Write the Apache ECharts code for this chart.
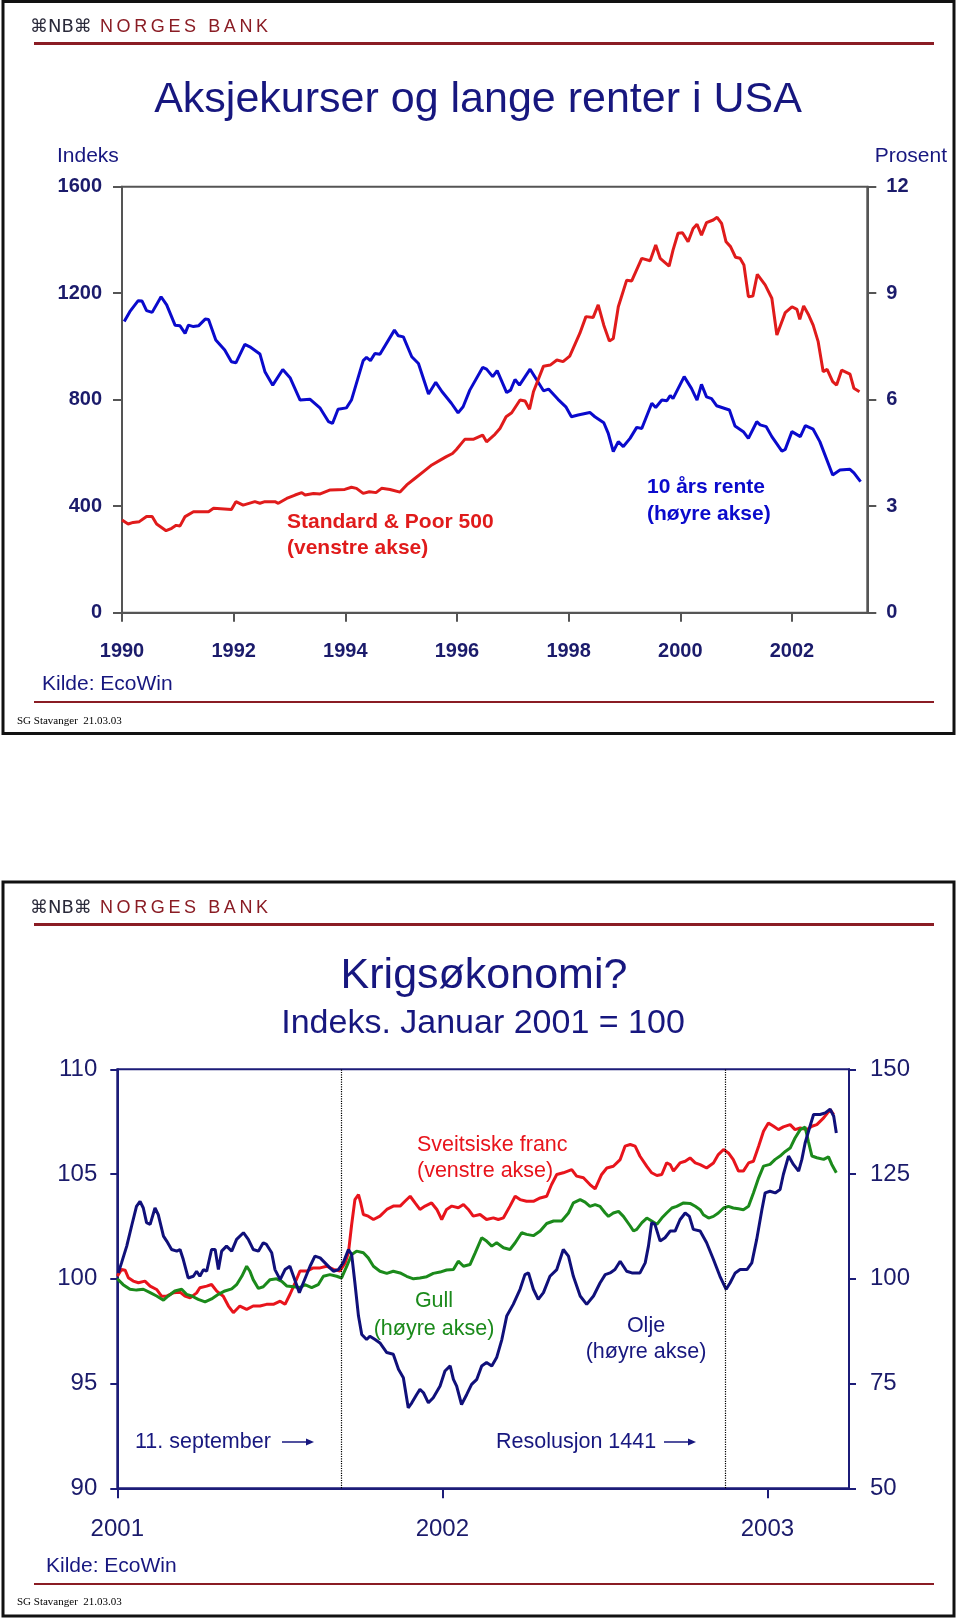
<!DOCTYPE html>
<html>
<head>
<meta charset="utf-8">
<script src="https://cdn.jsdelivr.net/npm/echarts@6/dist/echarts.min.js"></script>
<style>
html,body{margin:0;padding:0;background:#fff;}
#c{width:960px;height:1620px;}
</style>
</head>
<body>
<div id="c"></div>
<script>
// ---------- Chart 1: Aksjekurser og lange renter i USA ----------
const spYears = [1990.00,1990.11,1990.20,1990.31,1990.44,1990.54,1990.62,1990.79,1990.89,1990.97,1991.04,1991.13,1991.28,1991.55,1991.64,1991.96,1992.04,1992.17,1992.38,1992.47,1992.56,1992.74,1992.80,1992.95,1993.10,1993.22,1993.28,1993.43,1993.55,1993.73,1993.99,1994.11,1994.20,1994.32,1994.43,1994.55,1994.65,1994.80,1994.98,1995.10,1995.25,1995.40,1995.55,1995.70,1995.81,1995.92,1995.99,1996.08,1996.14,1996.29,1996.46,1996.53,1996.68,1996.77,1996.88,1996.98,1997.13,1997.22,1997.30,1997.37,1997.55,1997.67,1997.79,1997.90,1998.02,1998.20,1998.31,1998.44,1998.53,1998.63,1998.73,1998.80,1998.89,1999.04,1999.13,1999.31,1999.46,1999.56,1999.64,1999.80,1999.87,1999.96,2000.04,2000.14,2000.23,2000.30,2000.38,2000.47,2000.59,2000.66,2000.74,2000.82,2000.90,2000.99,2001.07,2001.14,2001.22,2001.30,2001.38,2001.52,2001.64,2001.73,2001.88,2002.00,2002.09,2002.14,2002.21,2002.30,2002.38,2002.47,2002.56,2002.63,2002.73,2002.80,2002.89,2003.04,2003.11,2003.21];
const spValues = [348,333,339,342,361,361,333,308,317,328,326,361,379,379,392,388,417,404,417,411,417,417,411,429,442,451,442,448,446,461,463,471,467,448,454,451,467,463,453,480,505,530,555,573,586,598,613,636,651,651,667,642,670,692,736,751,799,795,764,830,926,930,949,943,964,1049,1112,1109,1156,1080,1020,1030,1149,1249,1246,1331,1322,1381,1331,1302,1362,1425,1427,1393,1443,1459,1418,1465,1475,1485,1462,1393,1375,1335,1331,1306,1187,1189,1271,1231,1181,1043,1127,1149,1139,1102,1152,1118,1080,1018,905,914,868,855,911,896,843,830];

const rateYears = [1990.04,1990.14,1990.29,1990.36,1990.44,1990.54,1990.70,1990.80,1990.95,1991.04,1991.13,1991.19,1991.28,1991.37,1991.49,1991.55,1991.68,1991.84,1991.96,1992.04,1992.20,1992.29,1992.47,1992.56,1992.70,1992.88,1993.01,1993.19,1993.37,1993.55,1993.70,1993.77,1993.87,1994.02,1994.11,1994.32,1994.38,1994.45,1994.53,1994.62,1994.88,1994.95,1995.04,1995.19,1995.31,1995.49,1995.62,1995.73,1995.90,1996.02,1996.11,1996.23,1996.46,1996.53,1996.64,1996.72,1996.89,1996.96,1997.04,1997.12,1997.31,1997.55,1997.64,1997.81,1997.95,1998.05,1998.17,1998.38,1998.47,1998.63,1998.71,1998.80,1998.89,1998.98,1999.10,1999.22,1999.31,1999.49,1999.56,1999.67,1999.76,1999.82,1999.87,2000.07,2000.20,2000.30,2000.38,2000.47,2000.56,2000.65,2000.88,2000.98,2001.13,2001.22,2001.37,2001.43,2001.54,2001.64,2001.82,2001.88,2002.00,2002.15,2002.24,2002.38,2002.50,2002.73,2002.86,2003.04,2003.11,2003.23];
const rateValues = [8.20,8.48,8.79,8.78,8.51,8.46,8.90,8.67,8.10,8.08,7.87,8.10,8.06,8.08,8.27,8.26,7.68,7.40,7.07,7.04,7.56,7.49,7.29,6.79,6.41,6.85,6.62,5.99,6.01,5.76,5.38,5.33,5.73,5.77,5.99,7.10,7.19,7.10,7.30,7.28,7.96,7.80,7.77,7.21,7.02,6.16,6.49,6.23,5.90,5.63,5.80,6.27,6.91,6.86,6.65,6.82,6.20,6.27,6.57,6.41,6.86,6.25,6.30,6.01,5.80,5.52,5.57,5.64,5.52,5.35,5.05,4.54,4.82,4.68,4.91,5.22,5.19,5.90,5.78,5.99,5.97,6.12,6.03,6.65,6.32,5.99,6.43,6.08,6.03,5.83,5.71,5.26,5.10,4.91,5.38,5.29,5.24,4.96,4.55,4.60,5.10,4.96,5.27,5.17,4.82,3.88,4.02,4.04,3.94,3.69];

const topYearTicks = [1990,1992,1994,1996,1998,2000,2002];

// ---------- Chart 2: Krigsøkonomi? ----------
const chfDates = [2001.000,2001.013,2001.024,2001.034,2001.049,2001.065,2001.085,2001.101,2001.121,2001.136,2001.152,2001.172,2001.193,2001.208,2001.224,2001.244,2001.254,2001.275,2001.290,2001.306,2001.326,2001.342,2001.357,2001.377,2001.398,2001.418,2001.439,2001.459,2001.480,2001.501,2001.516,2001.531,2001.547,2001.562,2001.583,2001.603,2001.624,2001.644,2001.665,2001.685,2001.701,2001.711,2001.721,2001.731,2001.742,2001.749,2001.757,2001.772,2001.788,2001.808,2001.829,2001.849,2001.870,2001.885,2001.901,2001.916,2001.931,2001.947,2001.967,2001.983,2001.998,2002.013,2002.029,2002.049,2002.065,2002.080,2002.095,2002.116,2002.136,2002.157,2002.172,2002.188,2002.208,2002.224,2002.239,2002.259,2002.280,2002.301,2002.321,2002.336,2002.352,2002.372,2002.398,2002.413,2002.434,2002.454,2002.470,2002.490,2002.506,2002.526,2002.547,2002.562,2002.578,2002.593,2002.608,2002.629,2002.644,2002.660,2002.675,2002.690,2002.701,2002.711,2002.731,2002.747,2002.762,2002.778,2002.793,2002.813,2002.834,2002.849,2002.865,2002.880,2002.895,2002.911,2002.926,2002.942,2002.957,2002.973,2002.988,2003.003,2003.019,2003.034,2003.049,2003.070,2003.085,2003.101,2003.121,2003.137,2003.152,2003.173,2003.193,2003.204];
const chfValues = [100.13,100.45,100.41,100.05,99.89,99.81,99.89,99.65,99.49,99.17,99.17,99.33,99.36,99.17,99.09,99.33,99.57,99.65,99.73,99.41,99.17,98.70,98.38,98.70,98.54,98.70,98.70,98.78,98.78,98.93,98.78,99.25,99.81,100.37,100.37,100.52,100.52,100.60,100.45,100.37,100.76,101.24,102.59,103.78,104.02,103.62,103.07,102.99,102.83,102.99,103.31,103.47,103.47,103.70,103.94,103.62,103.31,103.47,103.62,103.31,102.83,103.31,103.47,103.39,103.55,103.31,102.99,103.07,102.83,102.91,102.83,102.91,103.47,103.94,103.78,103.70,103.70,103.86,103.94,104.50,104.98,105.06,105.21,104.90,104.82,104.50,104.29,104.98,105.29,105.37,105.69,106.33,106.41,106.33,105.85,105.37,105.06,104.93,104.98,105.53,105.45,105.14,105.53,105.61,105.77,105.53,105.45,105.29,105.53,105.93,106.17,106.01,105.69,105.14,105.14,105.53,105.61,106.33,107.04,107.44,107.28,107.12,107.25,107.36,107.12,107.20,107.12,107.28,107.36,107.68,108.08,107.84];

const goldDates = [2001.000,2001.018,2001.039,2001.059,2001.080,2001.101,2001.121,2001.142,2001.157,2001.177,2001.198,2001.213,2001.229,2001.249,2001.270,2001.290,2001.311,2001.331,2001.352,2001.367,2001.383,2001.398,2001.408,2001.418,2001.434,2001.449,2001.470,2001.490,2001.506,2001.521,2001.542,2001.562,2001.577,2001.598,2001.618,2001.634,2001.654,2001.675,2001.690,2001.706,2001.721,2001.736,2001.757,2001.772,2001.788,2001.808,2001.829,2001.849,2001.870,2001.890,2001.911,2001.931,2001.952,2001.972,2001.993,2002.013,2002.034,2002.049,2002.065,2002.085,2002.101,2002.121,2002.136,2002.152,2002.167,2002.188,2002.208,2002.224,2002.244,2002.259,2002.280,2002.301,2002.321,2002.342,2002.367,2002.388,2002.403,2002.424,2002.439,2002.454,2002.470,2002.485,2002.501,2002.511,2002.526,2002.542,2002.557,2002.578,2002.588,2002.598,2002.614,2002.629,2002.644,2002.660,2002.675,2002.690,2002.706,2002.721,2002.742,2002.762,2002.778,2002.793,2002.803,2002.819,2002.834,2002.849,2002.865,2002.880,2002.895,2002.911,2002.926,2002.942,2002.957,2002.973,2002.988,2003.008,2003.024,2003.039,2003.055,2003.070,2003.085,2003.101,2003.116,2003.126,2003.137,2003.152,2003.173,2003.188,2003.198,2003.212];
const goldValues = [100.0,98.6,97.5,97.3,97.5,96.7,95.9,94.9,95.9,97.1,97.5,96.3,95.9,95.1,94.5,95.2,96.3,97.1,97.6,98.6,100.6,103.0,101.8,99.8,97.7,98.1,99.8,100.0,99.4,98.3,98.1,97.9,98.6,97.9,98.6,100.6,101.0,100.6,100.2,103.0,105.8,106.6,106.2,105.0,103.0,101.8,101.3,101.8,101.4,100.6,100.0,100.2,100.5,101.3,101.6,102.1,102.2,104.2,103.0,103.4,106.2,109.8,109.0,107.8,108.6,107.4,107.0,108.6,111.0,110.6,110.3,111.4,113.2,113.8,113.8,115.7,118.1,118.9,118.3,117.3,117.7,117.3,115.7,114.9,115.7,116.1,114.9,112.6,111.4,111.8,113.4,114.5,113.8,113.0,114.5,115.7,116.9,117.3,118.1,118.0,117.3,116.5,115.3,114.5,114.9,115.7,116.9,117.3,116.9,116.7,116.5,117.3,120.5,124.1,126.9,127.3,128.5,129.3,130.4,131.2,133.6,135.6,136.2,132.8,129.3,128.9,128.5,129.1,127.3,125.3];

const oilDates = [2001.003,2001.013,2001.029,2001.044,2001.059,2001.070,2001.080,2001.090,2001.101,2001.116,2001.126,2001.142,2001.152,2001.167,2001.183,2001.193,2001.203,2001.218,2001.234,2001.244,2001.254,2001.265,2001.275,2001.290,2001.301,2001.311,2001.321,2001.336,2001.352,2001.367,2001.388,2001.403,2001.418,2001.434,2001.449,2001.459,2001.475,2001.485,2001.501,2001.516,2001.531,2001.542,2001.560,2001.572,2001.593,2001.608,2001.624,2001.639,2001.654,2001.665,2001.680,2001.695,2001.711,2001.721,2001.731,2001.742,2001.752,2001.767,2001.777,2001.793,2001.808,2001.829,2001.849,2001.865,2001.880,2001.895,2001.906,2001.921,2001.931,2001.942,2001.957,2001.972,2001.993,2002.008,2002.024,2002.034,2002.044,2002.059,2002.075,2002.090,2002.106,2002.121,2002.136,2002.152,2002.167,2002.183,2002.198,2002.218,2002.239,2002.254,2002.265,2002.280,2002.295,2002.311,2002.331,2002.352,2002.372,2002.388,2002.403,2002.424,2002.444,2002.465,2002.485,2002.501,2002.516,2002.531,2002.547,2002.567,2002.583,2002.608,2002.624,2002.634,2002.644,2002.654,2002.670,2002.685,2002.701,2002.716,2002.731,2002.747,2002.760,2002.772,2002.793,2002.813,2002.834,2002.854,2002.873,2002.885,2002.901,2002.916,2002.937,2002.952,2002.967,2002.983,2002.993,2003.008,2003.024,2003.039,2003.049,2003.065,2003.080,2003.096,2003.106,2003.116,2003.131,2003.142,2003.162,2003.178,2003.193,2003.204,2003.212];
const oilValues = [101.4,103.8,107.8,112.6,117.3,118.5,116.9,113.4,113.0,116.9,115.3,110.2,109.0,107.0,106.6,107.0,104.6,100.2,100.6,101.8,100.6,102.2,101.8,107.0,107.0,102.2,106.6,107.8,106.6,109.4,111.0,109.4,107.0,106.6,108.6,108.2,106.2,102.2,99.8,102.2,103.0,100.6,96.7,99.0,103.0,105.4,105.0,103.8,102.6,101.8,102.2,103.8,107.0,105.8,99.0,91.1,86.7,85.5,86.3,85.5,84.7,82.4,82.0,78.4,76.4,69.2,70.4,72.4,73.6,72.8,70.4,71.6,74.4,78.0,79.2,76.0,74.4,70.0,72.4,74.8,76.0,79.2,80.0,79.2,81.2,85.5,91.1,93.9,97.5,101.0,101.4,97.5,95.1,96.7,100.6,102.2,107.0,105.4,100.6,95.9,93.9,95.9,99.0,101.0,101.4,102.2,104.2,101.8,101.4,101.4,103.8,107.8,113.4,113.0,109.0,109.8,111.4,111.4,114.1,115.7,114.9,111.8,111.4,108.6,104.6,100.6,97.5,99.0,101.4,102.2,102.2,103.8,109.4,116.5,120.5,120.9,120.5,121.3,124.9,129.3,127.3,125.7,128.5,132.4,136.4,139.2,139.2,139.6,140.5,138.8,134.8];

const bottomYearTicks = [2001,2002,2003];
const eventDates = [2001.695, 2002.870]; // 11. september, Resolusjon 1441

function zip(xs, ys){ return xs.map((x,i)=>[x, ys[i]]); }

const FONT = "'Liberation Sans', Arial, sans-serif";
const NAVY = '#17177f';
const TICKNAVY = '#1b1b6b';
const GREY = '#555555';
const AX2 = '#1c1c78';
const DARKRED = '#8a1c24';

const chart = echarts.init(document.getElementById('c'), null, {renderer:'canvas'});

function txt(text, x, y, font, fill, align, valign){
  return {type:'text', silent:true, style:{text:text, x:x, y:y, font:font, fill:fill,
    align:align||'left', verticalAlign:valign||'middle', textAlign:align||'left', textVerticalAlign:valign||'middle'}};
}
function hline(x1,x2,y,color,w){
  return {type:'line', silent:true, shape:{x1:x1,y1:y,x2:x2,y2:y}, style:{stroke:color, lineWidth:w}};
}
function arrow(x1,x2,y){
  return [
    {type:'line', silent:true, shape:{x1:x1,y1:y,x2:x2-4,y2:y}, style:{stroke:NAVY, lineWidth:1.5}},
    {type:'polygon', silent:true, shape:{points:[[x2-8,y-3.5],[x2,y],[x2-8,y+3.5]]}, style:{fill:NAVY}}
  ];
}
const BANK = 'N\u2009O\u2009R\u2009G\u2009E\u2009S\u2009 \u2009B\u2009A\u2009N\u2009K';

const graphics = [
  // panel frames
  {type:'rect', silent:true, shape:{x:3,y:1.5,width:951,height:732}, style:{fill:'none', stroke:'#111', lineWidth:3}},
  {type:'rect', silent:true, shape:{x:3,y:882,width:951,height:734}, style:{fill:'none', stroke:'#111', lineWidth:3}},
  // logos
  txt('\u2318NB\u2318', 30, 27, "18px 'DejaVu Sans', sans-serif", '#2a2a3a'),
  txt(BANK, 100, 27, "18px " + FONT, DARKRED),
  hline(34, 934, 43.5, DARKRED, 3),
  txt('\u2318NB\u2318', 30, 908, "18px 'DejaVu Sans', sans-serif", '#2a2a3a'),
  txt(BANK, 100, 908, "18px " + FONT, DARKRED),
  hline(34, 934, 924.5, DARKRED, 3),
  // footers
  hline(34, 934, 702, DARKRED, 2),
  hline(34, 934, 1584, DARKRED, 2),
  txt('SG Stavanger  21.03.03', 17, 721, "11px 'Liberation Serif', 'Times New Roman', serif", '#000'),
  txt('SG Stavanger  21.03.03', 17, 1602, "11px 'Liberation Serif', 'Times New Roman', serif", '#000'),
  // chart 1 texts
  txt('Aksjekurser og lange renter i USA', 478, 100, "43px " + FONT, NAVY, 'center'),
  txt('Indeks', 57, 156, "21px " + FONT, NAVY),
  txt('Prosent', 947, 156, "21px " + FONT, NAVY, 'right'),
  txt('Standard & Poor 500', 287, 522, "bold 21px " + FONT, '#e01b1b'),
  txt('(venstre akse)', 287, 548, "bold 21px " + FONT, '#e01b1b'),
  txt('10 års rente', 647, 487, "bold 21px " + FONT, '#0a0acc'),
  txt('(høyre akse)', 647, 514, "bold 21px " + FONT, '#0a0acc'),
  txt('Kilde: EcoWin', 42, 684, "21px " + FONT, NAVY),
  // chart 2 texts
  txt('Krigsøkonomi?', 484, 976, "43px " + FONT, NAVY, 'center'),
  txt('Indeks. Januar 2001 = 100', 483, 1024, "34px " + FONT, NAVY, 'center'),
  txt('Sveitsiske franc', 417, 1145, "21.5px " + FONT, '#e8141c'),
  txt('(venstre akse)', 417, 1171, "21.5px " + FONT, '#e8141c'),
  txt('Gull', 434, 1301, "21.5px " + FONT, '#1b8a1b', 'center'),
  txt('(høyre akse)', 434, 1329, "21.5px " + FONT, '#1b8a1b', 'center'),
  txt('Olje', 646, 1326, "21.5px " + FONT, NAVY, 'center'),
  txt('(høyre akse)', 646, 1352, "21.5px " + FONT, NAVY, 'center'),
  txt('11. september', 135, 1442, "21.5px " + FONT, NAVY),
  txt('Resolusjon 1441', 496, 1442, "21.5px " + FONT, NAVY),
  txt('Kilde: EcoWin', 46, 1566, "21px " + FONT, NAVY)
].concat(arrow(282, 314, 1442)).concat(arrow(664, 696, 1442));

const plain = v => String(v);

const option = {
  animation: false,
  backgroundColor: '#ffffff',
  textStyle: {fontFamily: FONT},
  grid: [
    {left:122, top:186.7, width:745.3, height:426, show:true, borderColor:GREY, borderWidth:2, backgroundColor:'transparent'},
    {left:117.3, top:1069.3, width:731.7, height:419, show:true, borderColor:AX2, borderWidth:2, backgroundColor:'transparent'}
  ],
  xAxis: [
    {type:'value', gridIndex:0, min:1990, max:2003.35,
     axisLine:{show:true, lineStyle:{color:GREY, width:2}},
     axisTick:{show:true, customValues: topYearTicks, length:9, lineStyle:{color:GREY, width:2}},
     axisLabel:{show:true, customValues: topYearTicks, margin:29, color:TICKNAVY, fontSize:20, fontWeight:'bold', fontFamily:FONT, formatter:v=>String(Math.round(v))},
     splitLine:{show:false}},
    {type:'value', gridIndex:1, min:2001, max:2003.251,
     axisLine:{show:true, lineStyle:{color:AX2, width:2}},
     axisTick:{show:true, customValues: bottomYearTicks, length:10, lineStyle:{color:AX2, width:2}},
     axisLabel:{show:true, customValues: bottomYearTicks, margin:29, color:TICKNAVY, fontSize:24, fontFamily:FONT, formatter:v=>String(Math.round(v))},
     splitLine:{show:false}}
  ],
  yAxis: [
    {type:'value', gridIndex:0, position:'left', min:0, max:1600, interval:400,
     axisLine:{show:true, lineStyle:{color:GREY, width:2}},
     axisTick:{show:true, length:9, lineStyle:{color:GREY, width:2}},
     axisLabel:{margin:20, color:TICKNAVY, fontSize:20, fontWeight:'bold', fontFamily:FONT, formatter:plain},
     splitLine:{show:false}},
    {type:'value', gridIndex:0, position:'right', min:0, max:12, interval:3,
     axisLine:{show:true, lineStyle:{color:GREY, width:2}},
     axisTick:{show:true, length:9, lineStyle:{color:GREY, width:2}},
     axisLabel:{margin:19, color:TICKNAVY, fontSize:20, fontWeight:'bold', fontFamily:FONT, formatter:plain},
     splitLine:{show:false}},
    {type:'value', gridIndex:1, position:'left', min:90, max:110, interval:5,
     axisLine:{show:true, lineStyle:{color:AX2, width:2}},
     axisTick:{show:true, length:7, lineStyle:{color:AX2, width:2}},
     axisLabel:{margin:20, color:TICKNAVY, fontSize:24, fontFamily:FONT, formatter:plain},
     splitLine:{show:false}},
    {type:'value', gridIndex:1, position:'right', min:50, max:150, interval:25,
     axisLine:{show:true, lineStyle:{color:AX2, width:2}},
     axisTick:{show:true, length:7, lineStyle:{color:AX2, width:2}},
     axisLabel:{margin:21, color:TICKNAVY, fontSize:24, fontFamily:FONT, formatter:plain},
     splitLine:{show:false}}
  ],
  series: [
    {name:'10 års rente', type:'line', xAxisIndex:0, yAxisIndex:1, data:zip(rateYears, rateValues),
     showSymbol:false, symbol:'none', lineStyle:{color:'#0a0acc', width:3}, itemStyle:{color:'#0a0acc'}, silent:true},
    {name:'Standard & Poor 500', type:'line', xAxisIndex:0, yAxisIndex:0, data:zip(spYears, spValues),
     showSymbol:false, symbol:'none', lineStyle:{color:'#e01b1b', width:3}, itemStyle:{color:'#e01b1b'}, silent:true},
    {name:'Sveitsiske franc', type:'line', xAxisIndex:1, yAxisIndex:2, data:zip(chfDates, chfValues),
     showSymbol:false, symbol:'none', lineStyle:{color:'#e8141c', width:3}, itemStyle:{color:'#e8141c'}, silent:true},
    {name:'Gull', type:'line', xAxisIndex:1, yAxisIndex:3, data:zip(goldDates, goldValues),
     showSymbol:false, symbol:'none', lineStyle:{color:'#1b8a1b', width:3}, itemStyle:{color:'#1b8a1b'}, silent:true},
    {name:'Olje', type:'line', xAxisIndex:1, yAxisIndex:3, data:zip(oilDates, oilValues),
     showSymbol:false, symbol:'none', lineStyle:{color:'#10107a', width:3}, itemStyle:{color:'#10107a'}, silent:true,
     markLine:{silent:true, symbol:['none','none'], label:{show:false},
       lineStyle:{type:'dotted', color:'#000', width:1.2},
       data: eventDates.map(d => ({xAxis:d}))}}
  ],
  graphic: graphics
};
chart.setOption(option);
</script>
</body>
</html>
